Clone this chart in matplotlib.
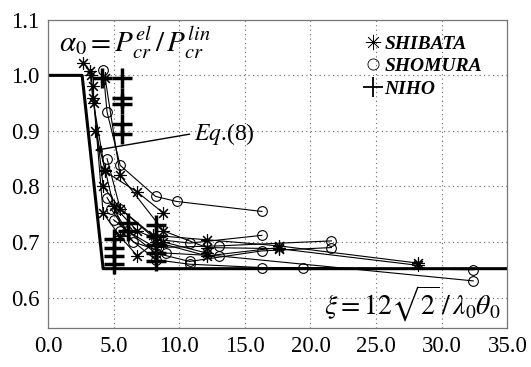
import matplotlib
matplotlib.use("Agg")
import matplotlib.pyplot as plt
from matplotlib.lines import Line2D

plt.rcParams["font.family"] = ["Liberation Serif", "STIXGeneral", "DejaVu Serif"]
plt.rcParams["mathtext.fontset"] = "stix"

# Eq.(8) design curve
eq8_x = [0.0, 2.6, 4.2, 35.0]
eq8_y = [1.0, 1.0, 0.652, 0.652]

# SHIBATA test series (asterisk)
shibata = [
    ([2.7, 3.2, 3.4, 4.35, 6.8, 8.8], [1.023, 1.007, 0.96, 0.827, 0.79, 0.752]),
    ([3.3, 3.5, 4.2, 5.5, 8.0, 12.1, 17.6, 28.2], [1.0, 0.95, 0.80, 0.76, 0.712, 0.704, 0.693, 0.662]),
    ([3.4, 4.2, 5.5, 6.8, 8.2, 12.1, 17.6], [0.98, 0.752, 0.71, 0.675, 0.70, 0.675, 0.69]),
    ([3.6, 4.35, 5.0, 6.8, 8.8, 12.1], [0.90, 0.83, 0.765, 0.72, 0.70, 0.68]),
    ([4.35, 5.5, 8.8, 12.1, 17.6, 28.2], [0.996, 0.82, 0.72, 0.69, 0.688, 0.658]),
]

# SHOMURA test series (circle)
shomura = [
    ([4.2, 4.5, 5.5, 8.2, 9.8, 16.3], [1.01, 0.934, 0.838, 0.782, 0.773, 0.755]),
    ([4.5, 5.5, 8.2, 10.8, 16.3], [0.85, 0.76, 0.705, 0.698, 0.712]),
    ([4.5, 6.0, 8.2, 13.0, 21.6], [0.78, 0.72, 0.69, 0.693, 0.702]),
    ([5.0, 8.2, 10.8, 16.3, 21.6], [0.74, 0.68, 0.665, 0.684, 0.69]),
    ([5.5, 8.2, 10.8, 16.3, 19.4, 32.4], [0.72, 0.668, 0.66, 0.654, 0.654, 0.65]),
    ([4.8, 6.5, 9.0, 13.0, 32.4], [0.76, 0.70, 0.68, 0.675, 0.63]),
]

# NIHO test points (plus)
niho_x = [4.1, 5.65, 5.65, 5.65, 5.65, 5.65, 5.0, 5.0, 5.0, 5.0, 6.1, 6.1,
          8.2, 8.2, 8.2, 8.2, 8.2]
niho_y = [0.996, 0.996, 0.96, 0.948, 0.912, 0.895, 0.705, 0.69, 0.675, 0.66,
          0.72, 0.735, 0.73, 0.71, 0.695, 0.68, 0.665]

xticks = [0, 5, 10, 15, 20, 25, 30, 35]
yticks = [0.6, 0.7, 0.8, 0.9, 1.0, 1.1]
legend_labels = ["SHIBATA", "SHOMURA", "NIHO"]

fig = plt.figure(figsize=(5.31, 3.67), dpi=100)
ax = fig.add_axes([0.0904, 0.106, 0.865, 0.84])

ast = (8, 2, 0)
for x, y in shibata:
    ax.plot(x, y, color="black", lw=0.8, marker=ast, ms=9, mew=0.8)
for x, y in shomura:
    ax.plot(x, y, color="black", lw=0.8, marker="o", ms=7, mfc="none", mew=0.8)
ax.plot(niho_x, niho_y, ls="none", color="black", marker="+", ms=14, mew=2.5)

ax.plot(eq8_x, eq8_y, color="black", lw=2.2)
ax.annotate("", xy=(3.35, 0.864), xytext=(11.0, 0.895),
            arrowprops=dict(arrowstyle="-|>", color="black", lw=1.0,
                            mutation_scale=10))
ax.text(11.1, 0.895, r"$\mathit{Eq}$.(8)", fontsize=17, va="center", ha="left")

ax.text(0.025, 0.985, r"$\alpha_0 = P_{cr}^{el}\,/\,P_{cr}^{lin}$", fontsize=21,
        transform=ax.transAxes, va="top", ha="left")
ax.text(0.985, 0.012, r"$\xi = 12\sqrt{2}\,/\,\lambda_0\theta_0$", fontsize=20,
        transform=ax.transAxes, va="bottom", ha="right")

# legend handles drawn thinner than the data marks, as in the figure
handles = [
    Line2D([], [], ls="none", color="black", marker=ast, ms=11, mew=0.5),
    Line2D([], [], ls="none", color="black", marker="o", ms=8, mfc="none", mew=0.6),
    Line2D([], [], ls="none", color="black", marker="+", ms=14, mew=1.3),
]
ax.legend(handles, legend_labels, loc="upper right", bbox_to_anchor=(0.975, 0.995),
          frameon=False, handlelength=0.9, handletextpad=0.15, borderpad=0.2,
          labelspacing=0.25, prop={"size": 14, "weight": "bold", "style": "italic"})

ax.set_xlim(0, 35)
ax.set_ylim(0.545, 1.1)
ax.set_xticks(xticks)
ax.set_xticklabels([f"{v:.1f}" for v in xticks])
ax.set_yticks(yticks)
ax.set_yticklabels([f"{v:.1f}" for v in yticks])
ax.tick_params(length=0, labelsize=16.5, pad=6)
ax.grid(True, ls=(0, (1, 3)), color="#666666", lw=0.8)
for s in ax.spines.values():
    s.set_color("#777777")
    s.set_linewidth(0.9)

fig.savefig("out.png", dpi=100)
